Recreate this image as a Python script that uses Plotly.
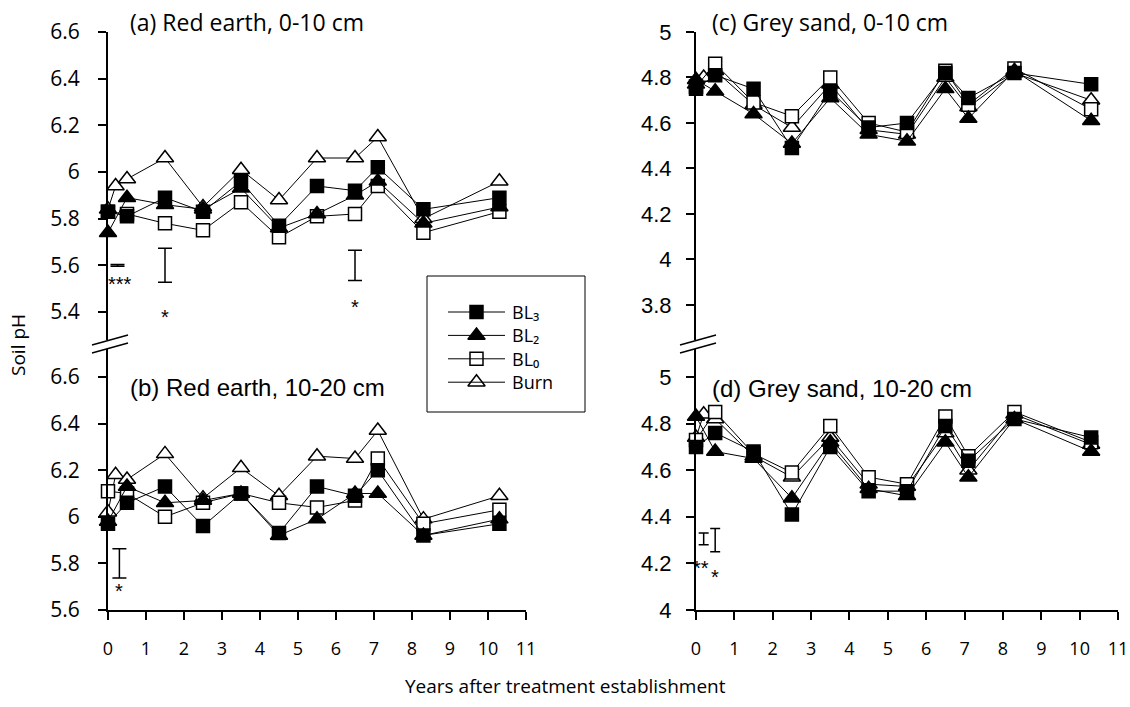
import plotly.graph_objects as go

# Sampling times (years after treatment establishment)
years = [0, 0.2, 0.5, 1.5, 2.5, 3.5, 4.5, 5.5, 6.5, 7.1, 8.3, 10.3]

# (a) Red earth, 0-10 cm
re_top_bl3 = [5.83, None, 5.81, 5.89, 5.83, 5.96, 5.77, 5.94, 5.92, 6.02, 5.84, 5.89]
re_top_bl2 = [5.74, None, 5.89, 5.86, 5.84, 5.93, 5.76, 5.82, 5.90, 5.96, 5.78, 5.85]
re_top_bl0 = [5.83, None, 5.82, 5.78, 5.75, 5.87, 5.72, 5.81, 5.82, 5.94, 5.74, 5.83]
re_top_burn = [5.84, 5.94, 5.97, 6.06, 5.85, 6.01, 5.88, 6.06, 6.06, 6.15, 5.80, 5.96]

# (b) Red earth, 10-20 cm
re_sub_bl3 = [5.97, None, 6.06, 6.13, 5.96, 6.10, 5.93, 6.13, 6.09, 6.20, 5.92, 5.97]
re_sub_bl2 = [5.98, None, 6.13, 6.06, 6.07, 6.10, 5.92, 5.99, 6.10, 6.10, 5.92, 5.99]
re_sub_bl0 = [6.11, None, 6.10, 6.00, 6.06, 6.10, 6.06, 6.04, 6.07, 6.25, 5.97, 6.03]
re_sub_burn = [6.02, 6.18, 6.16, 6.27, 6.08, 6.21, 6.09, 6.26, 6.25, 6.37, 5.99, 6.09]

# (c) Grey sand, 0-10 cm
gs_top_bl3 = [4.75, None, 4.81, 4.75, 4.49, 4.74, 4.58, 4.60, 4.82, 4.71, 4.82, 4.77]
gs_top_bl2 = [4.79, None, 4.74, 4.64, 4.51, 4.71, 4.55, 4.52, 4.75, 4.62, 4.83, 4.61]
gs_top_bl0 = [4.76, None, 4.86, 4.69, 4.63, 4.80, 4.60, 4.56, 4.83, 4.68, 4.84, 4.66]
gs_top_burn = [4.77, 4.80, 4.83, 4.68, 4.58, 4.77, 4.57, 4.55, 4.80, 4.67, 4.82, 4.70]

# (d) Grey sand, 10-20 cm
gs_sub_bl3 = [4.70, None, 4.76, 4.68, 4.41, 4.70, 4.51, 4.51, 4.79, 4.64, 4.82, 4.74]
gs_sub_bl2 = [4.83, None, 4.68, 4.65, 4.48, 4.72, 4.52, 4.49, 4.72, 4.57, 4.82, 4.68]
gs_sub_bl0 = [4.73, None, 4.85, 4.67, 4.59, 4.79, 4.57, 4.54, 4.83, 4.66, 4.85, 4.72]
gs_sub_burn = [4.74, 4.84, 4.82, 4.66, 4.57, 4.74, 4.54, 4.53, 4.76, 4.60, 4.84, 4.71]

# LSD bars (x, centre, half-length) and significance marks
lsd_a_x, lsd_a_c, lsd_a_h = [0.25, 1.5, 6.5], [5.60, 5.60, 5.60], [0.004, 0.073, 0.065]
lsd_b_x, lsd_b_c, lsd_b_h = [0.3], [5.80], [0.063]
lsd_d_x, lsd_d_c, lsd_d_h = [0.2, 0.5], [4.305, 4.30], [0.025, 0.05]
sig_a = [(0.32, 5.52, "***"), (1.5, 5.38, "*"), (6.5, 5.42, "*")]
sig_b = [(0.3, 5.68, "*")]
sig_d = [(0.13, 4.18, "**"), (0.5, 4.14, "*")]

# legend order (top to bottom) and drawing order (back to front)
legend_names = ["BL₃", "BL₂", "BL₀", "Burn"]
draw_names = ["Burn", "BL₀", "BL₂", "BL₃"]
series_style = {
    "Burn": dict(symbol="triangle-up", size=15, color="white"),
    "BL₀": dict(symbol="square", size=13, color="white"),
    "BL₂": dict(symbol="triangle-up", size=15, color="black"),
    "BL₃": dict(symbol="square", size=13, color="black"),
}

panels = [
    # (x axis, y axis, series in drawing order)
    ("x2", "y2", [re_top_burn, re_top_bl0, re_top_bl2, re_top_bl3]),
    ("x", "y", [re_sub_burn, re_sub_bl0, re_sub_bl2, re_sub_bl3]),
    ("x4", "y4", [gs_top_burn, gs_top_bl0, gs_top_bl2, gs_top_bl3]),
    ("x3", "y3", [gs_sub_burn, gs_sub_bl0, gs_sub_bl2, gs_sub_bl3]),
]

W, H = 1130, 707


def fx(px):
    return px / W


def fy(py):
    return 1 - py / H


fig = go.Figure()

for xa, ya, values in panels:
    for name, vals in zip(draw_names, values):
        st = series_style[name]
        fig.add_trace(go.Scatter(
            x=years, y=vals, xaxis=xa, yaxis=ya, cliponaxis=False,
            mode="lines+markers", connectgaps=True, name=name, showlegend=False,
            line=dict(color="black", width=1),
            marker=dict(symbol=st["symbol"], size=st["size"], color=st["color"],
                        line=dict(color="black", width=1.5)),
            hoverinfo="skip",
        ))


def add_lsd(xa, ya, xs, cs, hs, width):
    fig.add_trace(go.Scatter(
        x=xs, y=cs, xaxis=xa, yaxis=ya, mode="markers", showlegend=False,
        cliponaxis=False, marker=dict(size=1, color="rgba(0,0,0,0)"),
        error_y=dict(type="data", array=hs, visible=True, color="black",
                     thickness=1.5, width=width),
        hoverinfo="skip",
    ))


add_lsd("x2", "y2", lsd_a_x, lsd_a_c, lsd_a_h, 7)
add_lsd("x", "y", lsd_b_x, lsd_b_c, lsd_b_h, 7)
add_lsd("x3", "y3", lsd_d_x, lsd_d_c, lsd_d_h, 5)

annotations = []
for xa, ya, marks in (("x2", "y2", sig_a), ("x", "y", sig_b), ("x3", "y3", sig_d)):
    for sx, sy, txt in marks:
        annotations.append(dict(x=sx, y=sy, xref=xa, yref=ya, text=txt, showarrow=False,
                                font=dict(family="Liberation Sans", size=20, color="black")))

MYR = "Open Sans"
ARI = "Liberation Sans"
titles = [
    (128, 22, "(a) Red earth, 0-10 cm", MYR, 23),
    (128, 387, "(b) Red earth, 10-20 cm", ARI, 24),
    (710, 22, "(c) Grey sand, 0-10 cm", MYR, 23),
    (710, 388, "(d) Grey sand, 10-20 cm", ARI, 24),
]
for px, py, txt, fam, sz in titles:
    annotations.append(dict(x=fx(px), y=fy(py), xref="paper", yref="paper", text=txt,
                            showarrow=False, xanchor="left", yanchor="middle",
                            font=dict(family=fam, size=sz, color="black")))

annotations.append(dict(x=fx(18), y=fy(345), xref="paper", yref="paper", text="Soil pH",
                        textangle=-90, showarrow=False, xanchor="center", yanchor="middle",
                        font=dict(family=MYR, size=19, color="black")))
annotations.append(dict(x=fx(565), y=fy(686), xref="paper", yref="paper",
                        text="Years after treatment establishment", showarrow=False,
                        xanchor="center", yanchor="middle",
                        font=dict(family=MYR, size=19, color="black")))

# Legend box geometry (pixels)
LG_X0, LG_X1, LG_Y0, LG_Y1 = 427, 585, 276, 412
legend_rows = [36, 59.4, 82.8, 106.2]    # row centres below the box top
key_x0, key_x1, key_mid, text_x = 21, 78, 49.5, 83

shapes = []
for name, row in zip(legend_names, legend_rows):
    st = series_style[name]
    shapes.append(dict(type="line", xref="paper", yref="paper",
                       x0=fx(LG_X0 + key_x0), x1=fx(LG_X0 + key_x1),
                       y0=fy(LG_Y0 + row), y1=fy(LG_Y0 + row),
                       line=dict(color="black", width=1)))
    fig.add_trace(go.Scatter(
        x=[key_mid], y=[row], xaxis="x5", yaxis="y5", mode="markers", showlegend=False,
        marker=dict(symbol=st["symbol"], size=st["size"], color=st["color"],
                    line=dict(color="black", width=1.5)),
        hoverinfo="skip",
    ))

# legend labels as one block of lines (line pitch 1.3 x font size)
legend_mid = (legend_rows[0] + legend_rows[-1]) / 2
annotations.append(dict(x=fx(LG_X0 + text_x), y=fy(LG_Y0 + legend_mid), xref="paper",
                        yref="paper", text="<br>".join(legend_names), showarrow=False,
                        xanchor="left", yanchor="middle", align="left",
                        font=dict(family=MYR, size=18, color="black")))

shapes.append(dict(type="rect", xref="paper", yref="paper",
                   x0=fx(LG_X0), y0=fy(LG_Y1), x1=fx(LG_X1), y1=fy(LG_Y0),
                   line=dict(color="black", width=1), fillcolor="rgba(0,0,0,0)"))

# Axis geometry (pixel positions of plot areas)
L0, L1 = 108, 526
R0, R1 = 696, 1118
TOP0, TOP1 = 32, 340
BOT0, BOT1 = 349, 610

# axis break marks
for ax in (L0, R0):
    for dy in (0, 8):
        shapes.append(dict(type="line", xref="paper", yref="paper",
                           x0=fx(ax - 16), y0=fy(345 + dy), x1=fx(ax + 20), y1=fy(335 + dy),
                           line=dict(color="black", width=1.5)))

yaxis_common = dict(showline=True, linecolor="black", linewidth=2, ticks="outside",
                    ticklen=8, tickwidth=1.5, tickcolor="black", showgrid=False,
                    zeroline=False, automargin=False)
xaxis_common = dict(range=[0, 11], showgrid=False, zeroline=False, automargin=False)
xaxis_shown = dict(showline=True, linecolor="black", linewidth=2, ticks="outside",
                   ticklen=8, tickwidth=1.5, tickcolor="black",
                   tickvals=list(range(0, 12)), ticklabelstandoff=13,
                   tickfont=dict(family=MYR, size=18, color="black"))

fig.update_layout(
    width=W, height=H,
    margin=dict(l=0, r=0, t=0, b=0, pad=0, autoexpand=False),
    paper_bgcolor="white", plot_bgcolor="white",
    showlegend=False,
    xaxis=dict(domain=[fx(L0), fx(L1)], anchor="y", **xaxis_shown, **xaxis_common),
    yaxis=dict(domain=[fy(BOT1), fy(BOT0)], anchor="x", range=[5.6, 6.72],
               tickvals=[5.6, 5.8, 6.0, 6.2, 6.4, 6.6],
               ticktext=["5.6", "5.8", "6", "6.2", "6.4", "6.6"], ticklabelstandoff=14,
               tickfont=dict(family=MYR, size=21, color="black"), **yaxis_common),
    xaxis2=dict(domain=[fx(L0), fx(L1)], anchor="y2", visible=False, **xaxis_common),
    yaxis2=dict(domain=[fy(TOP1), fy(TOP0)], anchor="x2", range=[5.28, 6.6],
                tickvals=[5.4, 5.6, 5.8, 6.0, 6.2, 6.4, 6.6],
                ticktext=["5.4", "5.6", "5.8", "6", "6.2", "6.4", "6.6"], ticklabelstandoff=14,
                tickfont=dict(family=MYR, size=21, color="black"), **yaxis_common),
    xaxis3=dict(domain=[fx(R0), fx(R1)], anchor="y3", **xaxis_shown, **xaxis_common),
    yaxis3=dict(domain=[fy(BOT1), fy(BOT0)], anchor="x3", range=[4.0, 5.12],
                tickvals=[4.0, 4.2, 4.4, 4.6, 4.8, 5.0],
                ticktext=["4", "4.2", "4.4", "4.6", "4.8", "5"], ticklabelstandoff=10,
                tickfont=dict(family=ARI, size=22, color="black"), **yaxis_common),
    xaxis4=dict(domain=[fx(R0), fx(R1)], anchor="y4", visible=False, **xaxis_common),
    yaxis4=dict(domain=[fy(TOP1), fy(TOP0)], anchor="x4", range=[3.646, 5.0],
                tickvals=[3.8, 4.0, 4.2, 4.4, 4.6, 4.8, 5.0],
                ticktext=["3.8", "4", "4.2", "4.4", "4.6", "4.8", "5"], ticklabelstandoff=10,
                tickfont=dict(family=ARI, size=22, color="black"), **yaxis_common),
    # pixel-unit axes for the legend keys
    xaxis5=dict(domain=[fx(LG_X0), fx(LG_X1)], anchor="y5", range=[0, LG_X1 - LG_X0],
                visible=False, automargin=False),
    yaxis5=dict(domain=[fy(LG_Y1), fy(LG_Y0)], anchor="x5", range=[LG_Y1 - LG_Y0, 0],
                visible=False, automargin=False),
    annotations=annotations,
    shapes=shapes,
)

fig.write_html("out.html")
